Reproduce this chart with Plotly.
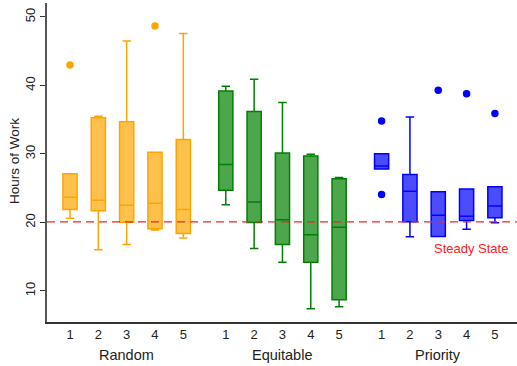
import plotly.graph_objects as go

# ---- data ----
groups = ["Random", "Equitable", "Priority"]
group_colors = ["#FFA500", "#008000", "#0000FF"]
group_fills = ["rgba(255,165,0,0.7)", "rgba(0,128,0,0.7)", "rgba(0,0,255,0.7)"]
tick_labels = ["1", "2", "3", "4", "5"]

random_lower = [20.6, 16.0, 16.8, 18.9, 17.75]
random_q1 = [21.9, 21.7, 20.05, 19.1, 18.4]
random_median = [23.7, 23.25, 22.5, 22.8, 21.9]
random_q3 = [27.1, 35.3, 34.7, 30.25, 32.1]
random_upper = [27.1, 35.5, 46.5, 30.25, 47.6]
random_outliers = [[43.0], [], [], [48.7], []]

equitable_lower = [22.6, 16.2, 14.2, 7.4, 7.7]
equitable_q1 = [24.7, 20.0, 16.8, 14.2, 8.7]
equitable_median = [28.45, 23.0, 20.4, 18.2, 19.3]
equitable_q3 = [39.2, 36.2, 30.15, 29.7, 26.4]
equitable_upper = [39.9, 40.9, 37.5, 29.95, 26.55]
equitable_outliers = [[], [], [], [], []]

priority_lower = [27.8, 17.9, 17.95, 19.0, 19.95]
priority_q1 = [27.8, 20.1, 17.95, 20.3, 20.7]
priority_median = [28.25, 24.55, 21.05, 20.9, 22.4]
priority_q3 = [30.05, 27.0, 24.5, 24.9, 25.2]
priority_upper = [30.05, 35.4, 24.5, 24.9, 25.2]
priority_outliers = [[34.8, 24.1], [], [39.3], [38.8], [35.9]]

steady_state = 20.1
steady_label = "Steady State"
y_title = "Hours of Work"

stats = [
    (random_lower, random_q1, random_median, random_q3, random_upper, random_outliers),
    (equitable_lower, equitable_q1, equitable_median, equitable_q3, equitable_upper, equitable_outliers),
    (priority_lower, priority_q1, priority_median, priority_q3, priority_upper, priority_outliers),
]

fig = go.Figure()
tickvals, ticktext, group_centers = [], [], []
for g, (lo, q1, med, q3, up, outs) in enumerate(stats):
    positions = [1 + g * 5.5 + i for i in range(5)]
    group_centers.append(positions[2])
    tickvals += positions
    ticktext += tick_labels
    for i, p in enumerate(positions):
        fig.add_trace(go.Box(
            x=[p], q1=[q1[i]], median=[med[i]], q3=[q3[i]],
            lowerfence=[lo[i]], upperfence=[up[i]],
            width=0.5, whiskerwidth=0.6,
            fillcolor=group_fills[g],
            line=dict(color=group_colors[g], width=1.5),
            boxpoints=False, showlegend=False, hoverinfo="skip",
        ))
        if outs[i]:
            fig.add_trace(go.Scatter(
                x=[p] * len(outs[i]), y=outs[i], mode="markers",
                marker=dict(color=group_colors[g], size=7.5),
                showlegend=False, hoverinfo="skip",
            ))

fig.add_shape(type="line", xref="paper", x0=0, x1=1, yref="y",
              y0=steady_state, y1=steady_state,
              line=dict(color="#E8282B", width=1.3, dash="8px,5px"))

fig.add_annotation(x=15.17, y=16.25, xref="x", yref="y", text=steady_label,
                   showarrow=False, font=dict(color="#FF2020", size=13))

for name, c in zip(groups, group_centers):
    fig.add_annotation(x=c, y=-0.1034, xref="x", yref="paper", text=name,
                       showarrow=False, yanchor="middle",
                       font=dict(size=14.5, color="#222"))

fig.add_annotation(x=-0.068, y=0.505, xref="paper", yref="paper", text=y_title,
                   textangle=-90, showarrow=False, xanchor="center", yanchor="middle",
                   font=dict(size=13.5, color="#222"))

fig.update_layout(
    width=517, height=366,
    margin=dict(l=47, r=0, t=3, b=44),
    paper_bgcolor="white", plot_bgcolor="white",
    font=dict(family="Liberation Sans, Arial, sans-serif", color="#222"),
    xaxis=dict(range=[0.188, 16.78], tickvals=tickvals, ticktext=ticktext,
               showgrid=False, zeroline=False, showline=True, linecolor="#333",
               linewidth=1.5, ticks="", tickfont=dict(size=13)),
    yaxis=dict(range=[5.47, 52.04], tickvals=[10, 20, 30, 40, 50],
               showgrid=False, zeroline=False, showline=True, linecolor="#555",
               linewidth=1.5, ticks="outside", ticklen=5, tickcolor="#333",
               tickangle=-90, tickfont=dict(size=13)),
)

fig.write_html("out.html")
